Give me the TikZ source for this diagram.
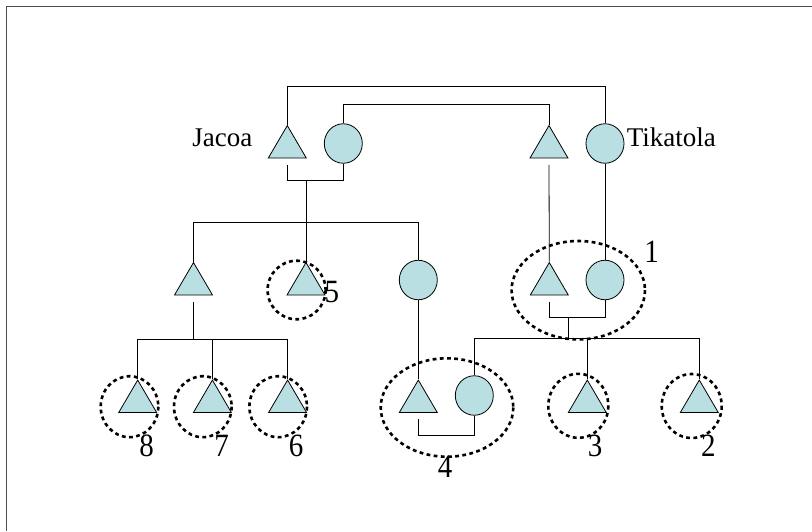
\documentclass[tikz,border=0pt]{standalone}
\usepackage{fontspec}
\setmainfont{Liberation Serif}
\usetikzlibrary{shapes.geometric}
\definecolor{kin}{RGB}{185,223,226}
\tikzset{
  male/.style={isosceles triangle, shape border rotate=90, isosceles triangle stretches,
    minimum width=38pt, minimum height=32.5pt, inner sep=0pt, draw, fill=kin, anchor=apex},
  female/.style={ellipse, minimum width=38pt, minimum height=39.5pt, inner sep=0pt, draw, fill=kin},
  ring/.style={draw, line width=2.6pt, dash pattern=on 3.8pt off 3.4pt},
  num/.style={inner sep=0pt, font=\fontsize{29}{32}\selectfont},
  who/.style={inner sep=0pt, font=\fontsize{27}{30}\selectfont}
}
\newcommand{\tallnum}[1]{\scalebox{1}[1.12]{#1}}
\begin{document}
\begin{tikzpicture}[x=1pt,y=-1pt,line width=0.8pt]
            \fill[white] (0,0) rectangle (812,531);
            \useasboundingbox (0,0) rectangle (812,531);
            \draw[black!70,line width=1.5pt] (6.5,531) -- (6.5,6.5) -- (812,6.5);

            \node[male] (jacoa) at (287.3,124.5) {};
            \node[female] (jwife) at (343.3,143.5) {};
            \node[male] (tman) at (549,124.5) {};
            \node[female] (tikatola) at (605,143.5) {};
            \node[who,anchor=base east] (jacoatext) at (252.7,146.7) {Jacoa};
            \node[who,anchor=base west] (tikatolatext) at (626.4,146.7) {Tikatola};

            \node[male] (sonA) at (193.5,261.5) {};
            \node[male] (ego5) at (306,261.5) {};
            \node[female] (dau) at (418.3,280) {};
            \node[male] (ego1m) at (549.3,261.5) {};
            \node[female] (ego1f) at (605,280) {};

            \node[male] (e8) at (137.7,379) {};
            \node[male] (e7) at (212.4,379) {};
            \node[male] (e6) at (287.6,379) {};
            \node[male] (e4m) at (418.3,379) {};
            \node[female] (e4f) at (474.3,395.5) {};
            \node[male] (e3) at (587.3,379) {};
            \node[male] (e2) at (699.3,379) {};

            \coordinate (jbar) at (306,180.5);
            \coordinate (tbar) at (568.3,317.5);

            \draw (jacoa.apex) -- ++(0,-38.5) -| (tikatola.north);
            \draw (jwife.north) -- ++(0,-18.75) -| (tman.apex);
            \draw (jacoa.lower side) ++(0,6.5) |- (jbar) -| (jwife.south);
            \draw (jbar) -- (ego5.apex);
            \draw (sonA.apex) -- ++(0,-39.5) -| (dau.north);
            \draw (tman.lower side) ++(0,6.5) -- (ego1m.apex);
            \draw (tikatola.south) -- (ego1f.north);
            \draw (ego1m.lower side) ++(0,6.5) |- (tbar) -| (ego1f.south);
            \draw (tbar) -- ++(0,20.8);
            \draw (e4f.north) -- ++(0,-37.45) -| (e2.apex);
            \draw (e3.apex) -- ++(0,-40.7);
            \draw (dau.south) -- (e4m.apex);
            \draw (e4m.lower side) ++(0,6.5) -- ++(0,16.3) -| (e4f.south);
            \draw (sonA.lower side) ++(0,6.5) -- ++(0,38.5);
            \draw (e8.apex) -- ++(0,-40) -| (e6.apex);
            \draw (e7.apex) -- ++(0,-40);

            \draw[ring] (296.6,290) ellipse [x radius=29, y radius=29.3];
            \draw[ring] (578.3,290.2) ellipse [x radius=66.7, y radius=49.2];
            \draw[ring] (129.5,406.7) ellipse [x radius=28.8, y radius=30.5];
            \draw[ring] (202.8,406.7) ellipse [x radius=28.8, y radius=30.5];
            \draw[ring] (278.2,406.7) ellipse [x radius=28.8, y radius=30.5];
            \draw[ring] (447,407.5) ellipse [x radius=66.3, y radius=49.2];
            \draw[ring] (578.3,405.8) ellipse [x radius=30, y radius=32];
            \draw[ring] (691.7,406) ellipse [x radius=30, y radius=32];

            \node[num] (n1) at (651.7,251.3) {\tallnum{1}};
            \node[num] (n5) at (331.8,291.7) {\tallnum{5}};
            \node[num] (n8) at (146.7,446) {\tallnum{8}};
            \node[num] (n7) at (221.7,446) {\tallnum{7}};
            \node[num] (n6) at (296.1,446) {\tallnum{6}};
            \node[num] (n4) at (445,466.7) {\tallnum{4}};
            \node[num] (n3) at (595,446) {\tallnum{3}};
            \node[num] (n2) at (708.3,446) {\tallnum{2}};
        \end{tikzpicture}
\end{document}
